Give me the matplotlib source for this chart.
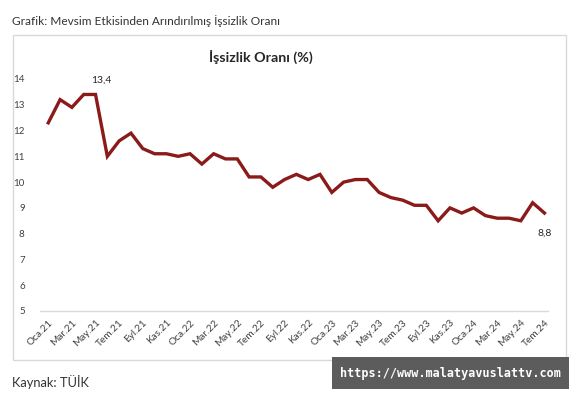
import matplotlib
matplotlib.use("Agg")
import matplotlib.pyplot as plt
from matplotlib.patches import Rectangle

plt.rcParams['font.family'] = ['Lato', 'DejaVu Sans']

# Seasonally adjusted unemployment rate, Jan 2021 - Jul 2024 (%)
rates = [12.3, 13.2, 12.9, 13.4, 13.4, 11.0, 11.6, 11.9, 11.3, 11.1, 11.1, 11.0,
         11.1, 10.7, 11.1, 10.9, 10.9, 10.2, 10.2, 9.8, 10.1, 10.3, 10.1, 10.3,
         9.6, 10.0, 10.1, 10.1, 9.6, 9.4, 9.3, 9.1, 9.1, 8.5, 9.0, 8.8,
         9.0, 8.7, 8.6, 8.6, 8.5, 9.2, 8.8]
month_names = ["Oca", "Şub", "Mar", "Nis", "May", "Haz",
               "Tem", "Ağu", "Eyl", "Eki", "Kas", "Ara"]
years = ["21", "22", "23", "24"]
labels = [f"{month_names[i % 12]}.{years[i // 12]}" for i in range(len(rates))]
tick_idx = list(range(0, len(rates), 2))
y_ticks = list(range(5, 15))
annotated = {4: "13,4", 42: "8,8"}

W, H = 579, 400
fig = plt.figure(figsize=(W / 100, H / 100), dpi=100)
fig.patch.set_facecolor("white")

def fx(px):
    return px / W

def fy(py):
    return 1 - py / H

# chart frame
fig.patches.append(Rectangle((fx(13), fy(360)), fx(566) - fx(13), fy(35) - fy(360),
                             transform=fig.transFigure, fill=False,
                             edgecolor="#d9d9d9", linewidth=1.0))

ax = fig.add_axes([fx(40), fy(311), fx(548) - fx(40), fy(79) - fy(311)])
x = list(range(len(rates)))
ax.plot(x, rates, color="#8b1a1a", linewidth=2.4, solid_joinstyle="miter")
ax.set_xlim(-0.7, len(rates) - 0.7)
ax.set_ylim(5, 14)

for s in ["top", "right", "left"]:
    ax.spines[s].set_visible(False)
ax.spines["bottom"].set_color("#d9d9d9")
ax.spines["bottom"].set_linewidth(1.0)

ax.set_yticks(y_ticks)
ax.set_yticklabels([str(v) for v in y_ticks], fontsize=7, color="#404040")
ax.tick_params(axis="y", length=0, pad=11)
ax.set_xticks(tick_idx)
ax.set_xticklabels([labels[i] for i in tick_idx], rotation=45, ha="right",
                   rotation_mode="anchor", fontsize=7.3, color="#404040")
ax.tick_params(axis="x", length=0, pad=5)

for i, txt in annotated.items():
    dy = 7 if i == 4 else -11
    ax.annotate(txt, (i, rates[i]), xytext=(4 if i == 4 else 0, dy),
                textcoords="offset points", ha="center",
                va="bottom" if dy > 0 else "top", fontsize=7.5,
                color="#262626")

fig.text(fx(261), fy(57), "İşsizlik Oranı (%)", ha="center", va="center",
         fontsize=10.3, fontweight="bold", color="#262626")
fig.text(fx(12), fy(21), "Grafik: Mevsim Etkisinden Arındırılmış İşsizlik Oranı",
         ha="left", va="center", fontsize=8.6, color="#333333")
fig.text(fx(12), fy(382), "Kaynak: TÜİK", ha="left", va="center",
         fontsize=9.3, color="#333333")

# watermark
fig.patches.append(Rectangle((fx(332), fy(389)), fx(569) - fx(332), fy(357) - fy(389),
                             transform=fig.transFigure, facecolor="#5c5c5c",
                             edgecolor="none"))
fig.text(fx(450), fy(373), "https://www.malatyavuslattv.com", ha="center",
         va="center", fontsize=8.5, fontweight="bold", color="white",
         family="DejaVu Sans Mono")

fig.savefig("out.png", dpi=100)
